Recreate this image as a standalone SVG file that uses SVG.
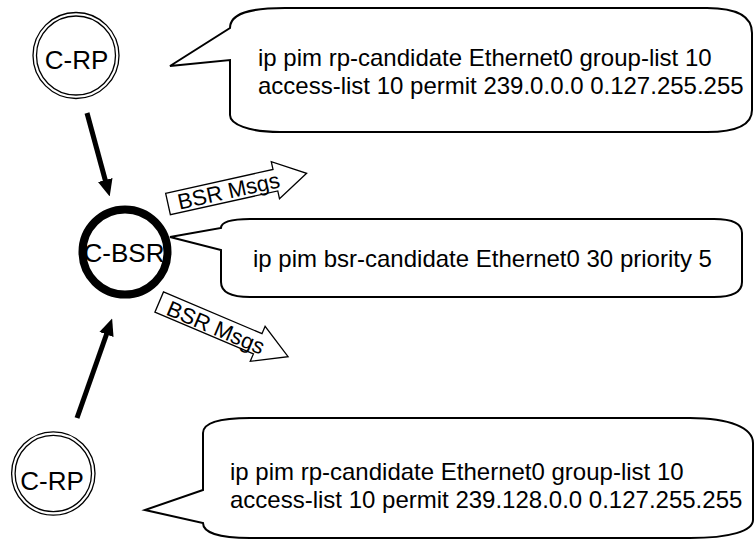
<svg xmlns="http://www.w3.org/2000/svg" width="755" height="541" viewBox="0 0 755 541">
<style>
.bub{fill:#fff;stroke:#000;stroke-width:2;stroke-linejoin:miter}
.t{font-family:"Liberation Sans",Arial,sans-serif;fill:#000}
.big{font-size:24px}
.ring{fill:#fff;stroke:#000;stroke-width:1.3}
.conn{stroke:#000;stroke-width:5;fill:none}
.blk{fill:#fff;stroke:#000;stroke-width:1.3}
</style>
<defs>
<marker id="ah" markerUnits="userSpaceOnUse" markerWidth="17" markerHeight="16" viewBox="0 0 17 16" refX="1" refY="8" orient="auto">
<path d="M0,0.5 L17,8 L0,15.5 z" fill="#000"/>
</marker>
</defs>
<rect width="755" height="541" fill="#fff"/>
<g id="connectors">
<line class="conn" x1="87" y1="113" x2="105.5" y2="181" marker-end="url(#ah)"/>
<line class="conn" x1="77" y1="418" x2="106.8" y2="333.5" marker-end="url(#ah)"/>
</g>
<g id="crp-top">
<circle class="ring" cx="76" cy="55.5" r="43"/>
<circle class="ring" cx="76" cy="55.5" r="39.5"/>
<text class="t" x="76.5" y="69" font-size="26" text-anchor="middle">C-RP</text>
</g>
<g id="crp-bottom">
<circle class="ring" cx="53.3" cy="473.5" r="41.7"/>
<circle class="ring" cx="53.3" cy="473.5" r="38.2"/>
<text class="t" x="52" y="490" font-size="26" text-anchor="middle">C-RP</text>
</g>
<g id="bubble-top">
<path class="bub" d="M230,28 C230,14 248,8 285,8 H707 C737,8 752,16 752,33 V110 C752,124 737,132 707,132 H280 C248,132 230,124 230,115 V60 L170,66 Z"/>
<text class="t big" x="258" y="66">ip pim rp-candidate Ethernet0 group-list 10</text>
<text class="t big" x="258" y="94">access-list 10 permit 239.0.0.0 0.127.255.255</text>
</g>
<g id="bubble-bsr">
<path class="bub" d="M221,228 C221,222 232,219 250,219 H714 C733,219 742,224 742,233 V282 C742,292 733,297 714,297 H250 C232,297 221,292 221,282 V250 L170,237 Z"/>
<text class="t big" x="253" y="267">ip pim bsr-candidate Ethernet0 30 priority 5</text>
</g>
<g id="bubble-bottom">
<path class="bub" d="M203,433 C203,423 218,418 250,418 H690 C730,418 753,428 753,443 V520 C753,531 730,538 690,538 H250 C218,538 203,532 203,523 L145,510 L203,490 Z"/>
<text class="t big" x="230" y="480">ip pim rp-candidate Ethernet0 group-list 10</text>
<text class="t big" x="230" y="508">access-list 10 permit 239.128.0.0 0.127.255.255</text>
</g>
<g id="cbsr">
<circle cx="125" cy="252" r="42.5" fill="#fff" stroke="#000" stroke-width="8"/>
<text class="t" x="124" y="262" font-size="26" text-anchor="middle">C-BSR</text>
</g>
<g id="bsr-msgs-up" transform="translate(168,204) rotate(-12.5)">
<path class="blk" d="M0,-11 H110 V-19 L142,0 L110,19 V11 H0 Z"/>
<text class="t" x="62" y="8" font-size="22" text-anchor="middle">BSR Msgs</text>
</g>
<g id="bsr-msgs-down" transform="translate(159.2,302) rotate(23)">
<path class="blk" d="M0,-11 H107 V-19 L140,0 L107,19 V11 H0 Z"/>
<text class="t" x="62" y="9" font-size="22" text-anchor="middle">BSR Msgs</text>
</g>
</svg>
